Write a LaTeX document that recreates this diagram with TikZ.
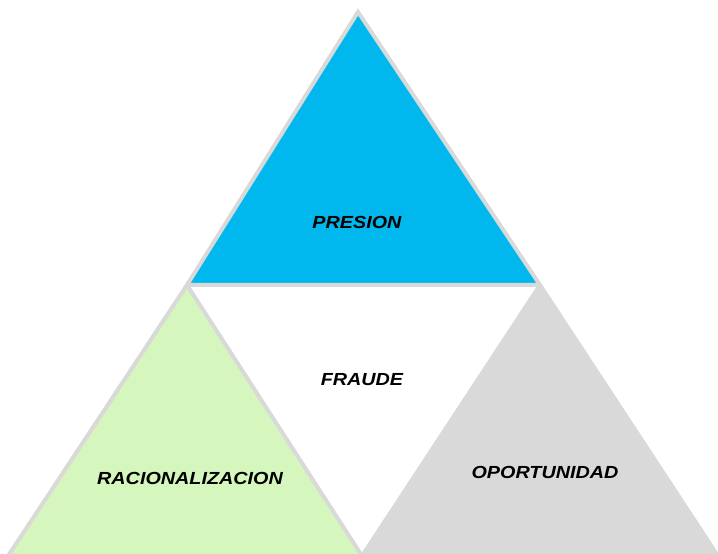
\documentclass[tikz,border=0pt]{standalone}
\usepackage{fontspec}
\newfontfamily\lblfont[FakeStretch=1.13]{Liberation Sans}
\definecolor{edgegray}{HTML}{D9D9D9}
\definecolor{presblue}{HTML}{00B8EE}
\definecolor{racgreen}{HTML}{D5F7BE}
\begin{document}
\begin{tikzpicture}[x=1pt,y=1pt,
  edge/.style={draw=edgegray,line width=4pt,line join=miter},
  lbl/.style={font=\lblfont\fontsize{17.5}{18}\selectfont\bfseries\itshape,text=black,inner sep=0pt}]
\useasboundingbox (0,0) rectangle (718,554);
\coordinate (A) at (358,542);
\coordinate (L) at (187,269);
\coordinate (R) at (540,269);
\coordinate (BL) at (8,-2);
\coordinate (BM) at (362,-2);
\coordinate (BR) at (718,-2);
\fill[white] (0,0) rectangle (718,554);
\fill[presblue] (A) -- (L) -- (R) -- cycle;
\fill[racgreen] (L) -- (BL) -- (BM) -- cycle;
\fill[edgegray] (R) -- (BM) -- (BR) -- cycle;
\draw[edge] (A) -- (L) -- (R) -- cycle;
\draw[edge] (L) -- (BL) -- (BM) -- cycle;
\draw[edge] (R) -- (BM) -- (BR) -- cycle;
\node[lbl] (pres) at (357,332) {PRESION};
\node[lbl] (fraude) at (362,174) {FRAUDE};
\node[lbl] (rac) at (190,76) {RACIONALIZACION};
\node[lbl] (opor) at (545,82) {OPORTUNIDAD};
\end{tikzpicture}
\end{document}
